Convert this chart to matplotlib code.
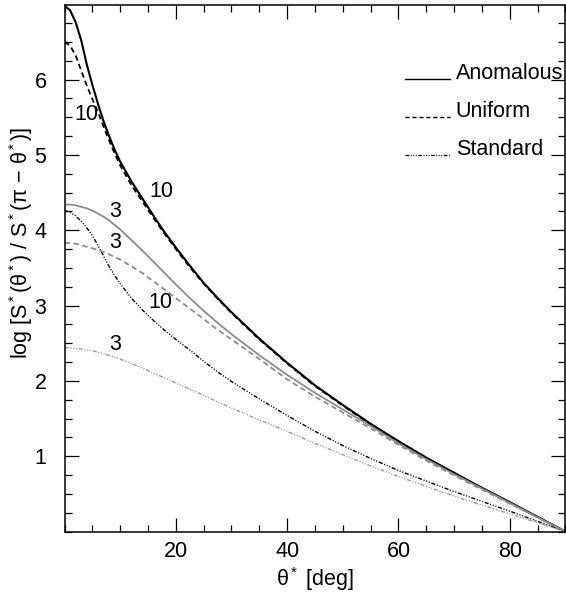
import matplotlib
matplotlib.use("Agg")
import matplotlib.pyplot as plt
from matplotlib.ticker import MultipleLocator, FixedLocator

plt.rcParams['font.family'] = ['Liberation Sans', 'DejaVu Sans']
plt.rcParams['mathtext.fontset'] = 'custom'
plt.rcParams['mathtext.rm'] = 'Liberation Sans'
plt.rcParams['mathtext.it'] = 'Liberation Sans:italic'

# scattering angle grid [deg]
theta = [0, 1, 2, 3, 4, 5, 6, 7, 8, 9, 10, 12, 14, 16, 18, 20, 22.5, 25, 27.5,
         30, 35, 40, 45, 50, 55, 60, 65, 70, 75, 80, 85, 90]

# log ratio of forward to backward scattering
anomalous_10 = [6.98, 6.92, 6.76, 6.52, 6.20, 5.93, 5.68, 5.45, 5.25, 5.07, 4.91,
                4.65, 4.42, 4.19, 3.97, 3.77, 3.53, 3.30, 3.10, 2.91, 2.56, 2.24,
                1.94, 1.68, 1.43, 1.20, 0.98, 0.78, 0.58, 0.39, 0.195, 0.0]
uniform_10 = [6.50, 6.45, 6.32, 6.12, 5.92, 5.74, 5.57, 5.38, 5.19, 5.02, 4.86,
              4.60, 4.38, 4.16, 3.95, 3.75, 3.51, 3.29, 3.09, 2.90, 2.55, 2.23,
              1.93, 1.67, 1.42, 1.19, 0.975, 0.775, 0.575, 0.385, 0.19, 0.0]
standard_10 = [4.26, 4.24, 4.19, 4.12, 4.03, 3.93, 3.80, 3.66, 3.52, 3.40, 3.29,
               3.10, 2.94, 2.80, 2.67, 2.55, 2.41, 2.26, 2.12, 1.99, 1.76, 1.54,
               1.33, 1.14, 0.97, 0.81, 0.67, 0.53, 0.40, 0.27, 0.135, 0.0]
anomalous_3 = [4.34, 4.34, 4.33, 4.31, 4.29, 4.26, 4.22, 4.18, 4.13, 4.07, 4.01,
               3.87, 3.73, 3.58, 3.43, 3.28, 3.10, 2.93, 2.77, 2.62, 2.34, 2.08,
               1.84, 1.62, 1.40, 1.17, 0.96, 0.76, 0.57, 0.38, 0.19, 0.0]
uniform_3 = [3.83, 3.83, 3.82, 3.80, 3.78, 3.76, 3.74, 3.71, 3.68, 3.645, 3.61,
             3.52, 3.43, 3.32, 3.21, 3.10, 2.96, 2.82, 2.68, 2.55, 2.29, 2.02,
             1.79, 1.58, 1.37, 1.15, 0.94, 0.745, 0.555, 0.37, 0.185, 0.0]
standard_3 = [2.44, 2.44, 2.43, 2.42, 2.41, 2.40, 2.38, 2.36, 2.34, 2.315, 2.29,
              2.23, 2.17, 2.10, 2.04, 1.97, 1.89, 1.81, 1.72, 1.64, 1.48, 1.33,
              1.17, 1.02, 0.87, 0.73, 0.60, 0.47, 0.35, 0.235, 0.115, 0.0]

legend_names = ['Anomalous', 'Uniform', 'Standard']
ytick_values = [1, 2, 3, 4, 5, 6]
xtick_values = [20, 40, 60, 80]

FS = 15.5
DASH = (0, (3.0, 2.0))
DDD = (0, (3.0, 1.2, 0.8, 1.2, 0.8, 1.2, 0.8, 1.2))

fig = plt.figure(figsize=(5.66, 5.97), dpi=100)
ax = fig.add_axes([0.114, 0.1097, 0.885, 0.882])

gray = '#8c8c8c'
ax.plot(theta, anomalous_10, color='black', lw=1.5, ls='-')
ax.plot(theta, uniform_10, color='black', lw=1.3, ls=DASH)
ax.plot(theta, standard_10, color='black', lw=1.0, ls=DDD)
ax.plot(theta, anomalous_3, color=gray, lw=1.3, ls='-')
ax.plot(theta, uniform_3, color=gray, lw=1.3, ls=DASH)
ax.plot(theta, standard_3, color='#9a9a9a', lw=1.0, ls=DDD)

# curve annotations (size parameter)
ax.text(3.9, 5.53, '10', fontsize=FS, ha='center', va='center')
ax.text(17.4, 4.52, '10', fontsize=FS, ha='center', va='center')
ax.text(9.1, 4.25, '3', fontsize=FS, ha='center', va='center')
ax.text(9.1, 3.83, '3', fontsize=FS, ha='center', va='center')
ax.text(17.3, 3.04, '10', fontsize=FS, ha='center', va='center')
ax.text(9.1, 2.48, '3', fontsize=FS, ha='center', va='center')

# legend drawn as line segments with labels at their baseline
styles = [('-', 1.0), (DASH, 1.0), (DDD, 0.9)]
for i, (name, (ls, lw)) in enumerate(zip(legend_names, styles)):
    yb = 0.859 - i * 0.072
    ax.plot([0.680, 0.769], [yb, yb], transform=ax.transAxes, color='black',
            ls=ls, lw=lw, clip_on=False)
    ax.text(0.781, yb, name, transform=ax.transAxes, fontsize=FS,
            ha='left', va='baseline')

ax.set_xlim(0, 90)
ax.set_ylim(0, 6.99)
ax.xaxis.set_major_locator(FixedLocator(xtick_values))
ax.xaxis.set_minor_locator(MultipleLocator(5))
ax.yaxis.set_major_locator(FixedLocator(ytick_values))
ax.yaxis.set_minor_locator(MultipleLocator(0.25))
ax.tick_params(which='both', direction='in', top=True, right=True, width=0.9)
ax.tick_params(which='major', length=10, labelsize=FS)
ax.tick_params(which='minor', length=5)
ax.tick_params(axis='y', pad=13)
ax.tick_params(axis='x', pad=7)
for s in ax.spines.values():
    s.set_linewidth(1.1)

ax.set_xlabel(r'θ$^*$ [deg]', fontsize=FS, labelpad=2)
fig.text(21 / 566, 1 - 243 / 597, r'log [S$^*$(θ$^*$) / S$^*$(π − θ$^*$)]',
         fontsize=FS, rotation=90, ha='center', va='center')

fig.savefig('out.png', dpi=100)
